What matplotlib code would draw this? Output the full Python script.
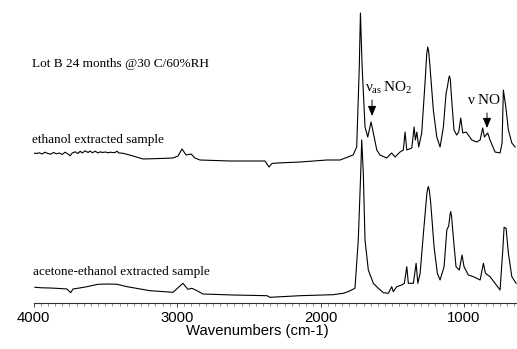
import matplotlib
matplotlib.use('Agg')
import matplotlib.pyplot as plt
from matplotlib.ticker import MultipleLocator

plt.rcParams['mathtext.fontset'] = 'custom'
plt.rcParams['mathtext.rm'] = 'Liberation Serif'
plt.rcParams['mathtext.it'] = 'Liberation Serif'
plt.rcParams['mathtext.bf'] = 'Liberation Serif:bold'

# Upper spectrum: ethanol extracted sample (wavenumber, absorbance a.u.)
wn_top = [4000, 3980, 3960, 3940, 3920, 3900, 3880, 3860, 3840, 3820, 3800, 3780, 3760, 3745,
          3730, 3710, 3690, 3675, 3660, 3640, 3620, 3605, 3590, 3570, 3550, 3535, 3520, 3500,
          3480, 3465, 3445, 3430, 3418, 3405, 3380, 3330, 3237, 3120, 3028, 2993, 2965, 2937,
          2902, 2875, 2840, 2631, 2387, 2359, 2338, 2303, 2143, 1955, 1864, 1773, 1748, 1730,
          1722, 1710, 1690, 1671, 1648, 1632, 1608, 1585, 1539, 1504, 1481, 1446, 1423, 1411,
          1399, 1364, 1348, 1339, 1329, 1316, 1295, 1272, 1260, 1253, 1246, 1237, 1214, 1190,
          1167, 1144, 1125, 1116, 1106, 1102, 1096, 1086, 1070, 1051, 1037, 1023, 1009, 986,
          970, 946, 911, 888, 870, 858, 835, 819, 784, 749, 735, 726, 709, 691, 667, 644]
abs_top = [0.070, 0.065, 0.072, 0.060, 0.078, 0.065, 0.058, 0.075, 0.062, 0.070, 0.055, 0.078,
           0.060, 0.042, 0.070, 0.082, 0.065, 0.088, 0.070, 0.092, 0.075, 0.090, 0.072, 0.088,
           0.070, 0.082, 0.075, 0.080, 0.072, 0.078, 0.074, 0.076, 0.088, 0.070, 0.068, 0.050,
           0.010, 0.015, 0.020, 0.040, 0.110, 0.050, 0.060, 0.020, 0.000, -0.010, -0.010, -0.070,
           -0.035, -0.030, -0.020, 0.000, 0.000, 0.050, 0.130, 0.930, 1.470, 0.930, 0.330, 0.230,
           0.380, 0.270, 0.100, 0.050, 0.020, 0.070, 0.030, 0.080, 0.100, 0.280, 0.100, 0.120,
           0.330, 0.200, 0.280, 0.130, 0.270, 0.770, 1.060, 1.130, 1.080, 0.930, 0.500, 0.230,
           0.130, 0.330, 0.670, 0.730, 0.820, 0.840, 0.810, 0.600, 0.300, 0.250, 0.280, 0.420,
           0.270, 0.280, 0.250, 0.200, 0.180, 0.200, 0.320, 0.230, 0.270, 0.200, 0.080, 0.070,
           0.170, 0.700, 0.530, 0.300, 0.170, 0.130]

# Lower spectrum: acetone-ethanol extracted sample
wn_low = [3990, 3940, 3885, 3830, 3767, 3741, 3725, 3680, 3627, 3590, 3551, 3480, 3418, 3348,
          3188, 3028, 2959, 2924, 2896, 2861, 2819, 2610, 2373, 2352, 2143, 1913, 1843, 1808,
          1760, 1737, 1720, 1713, 1702, 1690, 1667, 1632, 1597, 1562, 1527, 1504, 1493, 1469,
          1434, 1416, 1399, 1388, 1353, 1334, 1322, 1306, 1283, 1259, 1252, 1249, 1242, 1232,
          1209, 1186, 1167, 1139, 1120, 1107, 1097, 1093, 1087, 1075, 1056, 1033, 1014, 1000,
          970, 935, 888, 865, 851, 819, 784, 749, 730, 721, 707, 691, 667, 637]
abs_low = [0.077, 0.072, 0.070, 0.066, 0.060, 0.023, 0.060, 0.070, 0.083, 0.095, 0.107, 0.110,
           0.107, 0.083, 0.043, 0.027, 0.117, 0.057, 0.067, 0.043, 0.010, 0.000, -0.007, -0.023,
           -0.007, 0.003, 0.017, 0.033, 0.067, 0.550, 1.220, 1.550, 1.220, 0.550, 0.250, 0.117,
           0.067, 0.023, 0.017, 0.083, 0.033, 0.083, 0.100, 0.117, 0.283, 0.117, 0.117, 0.317,
           0.117, 0.217, 0.617, 1.017, 1.070, 1.083, 1.050, 0.917, 0.483, 0.217, 0.150, 0.283,
           0.650, 0.690, 0.810, 0.833, 0.790, 0.583, 0.283, 0.250, 0.400, 0.283, 0.200, 0.183,
           0.150, 0.317, 0.217, 0.183, 0.117, 0.050, 0.450, 0.677, 0.667, 0.417, 0.183, 0.117]

offset_top = 1.43
offset_low = 0.08

x_ticks = [4000, 3000, 2000, 1000]
x_label = 'Wavenumbers (cm-1)'

fig = plt.figure(figsize=(5.17, 3.49), dpi=100)
ax = fig.add_axes([33.5 / 517, 46 / 349, 483.5 / 517, 303 / 349])

ax.plot(wn_low, [a + offset_low for a in abs_low], color='black', lw=0.8)
ax.plot(wn_top, [a + offset_top for a in abs_top], color='black', lw=0.8)

ax.set_xlim(4000, 631)
ax.set_ylim(0, 3.03)
for s in ['top', 'left', 'right']:
    ax.spines[s].set_visible(False)
ax.spines['bottom'].set_color('#333333')
ax.spines['bottom'].set_linewidth(0.8)
ax.yaxis.set_visible(False)
ax.set_xticks(x_ticks)
ax.xaxis.set_minor_locator(MultipleLocator(50))
ax.tick_params(axis='x', which='major', length=3, width=0.7, pad=2.5, labelsize=10.7,
               labelfontfamily='Liberation Sans', color='#444444')
ax.tick_params(axis='x', which='minor', length=2, width=0.5, color='#666666')

fig.text(257 / 517, 1 - 331 / 349, x_label, family='Liberation Sans', size=10.7,
         ha='center', va='center')

serif = 'Liberation Serif'
fig.text(32 / 517, 1 - 66.5 / 349, 'Lot B 24 months @30 C/60%RH', family=serif, size=9.5,
         va='baseline')
fig.text(32 / 517, 1 - 143 / 349, 'ethanol extracted sample', family=serif, size=9.5,
         va='baseline')
fig.text(33 / 517, 1 - 275 / 349, 'acetone-ethanol extracted sample', family=serif, size=9.5,
         va='baseline')
fig.text(365 / 517, 1 - 91.5 / 349, r'$\nu_{\rm as}\,\rm NO_2$', size=11, va='baseline')
fig.text(467 / 517, 1 - 104.5 / 349, r'$\nu\ \rm NO$', size=11, va='baseline')

arrow = dict(arrowstyle='-|>,head_length=0.6,head_width=0.25', color='black', lw=0.7,
             shrinkA=0, shrinkB=0, mutation_scale=10)
ax.annotate('', xy=(1641, 1.87), xytext=(1641, 2.03), arrowprops=arrow)
ax.annotate('', xy=(840, 1.75), xytext=(840, 1.90), arrowprops=arrow)

fig.savefig('out.png', dpi=100)
